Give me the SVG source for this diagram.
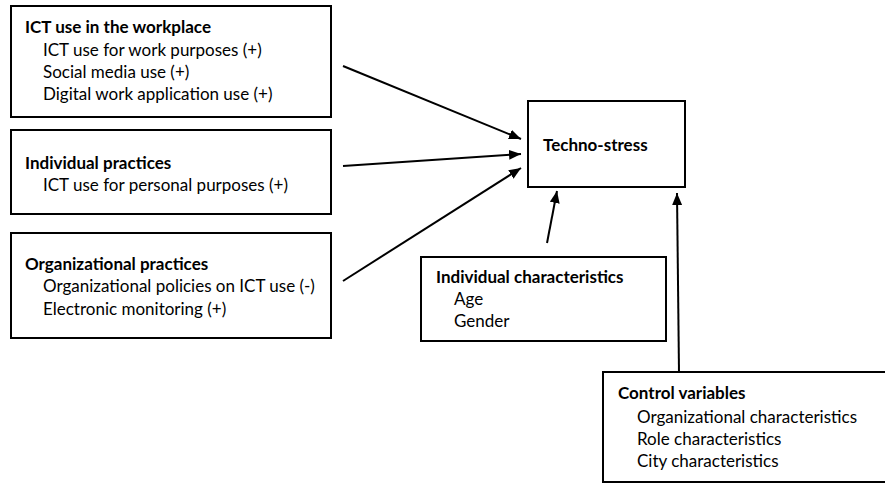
<svg xmlns="http://www.w3.org/2000/svg" width="885" height="483" viewBox="0 0 885 483">
<defs>
<style>
.box{fill:#fff;stroke:#000;stroke-width:2}
text{font-family:Lato,"Liberation Sans",sans-serif;font-size:17px;fill:#000}
.t{font-weight:bold}
.c{stroke:#000;stroke-width:2;fill:none;marker-end:url(#ah)}
</style>
<marker id="ah" viewBox="0 0 12 10" refX="12" refY="5" markerWidth="12" markerHeight="10" markerUnits="userSpaceOnUse" orient="auto">
<path d="M0,0 L12,5 L0,10 z" fill="#000"/>
</marker>
</defs>
<rect width="885" height="483" fill="#fff"/>
<g id="n-ict">
<rect class="box" x="11" y="6" width="320" height="111"/>
<text class="t" x="25" y="33" textLength="186" lengthAdjust="spacingAndGlyphs">ICT use in the workplace</text>
<text x="43" y="56">ICT use for work purposes (+)</text>
<text x="43" y="78">Social media use (+)</text>
<text x="43" y="100">Digital work application use (+)</text>
</g>
<g id="n-indpr">
<rect class="box" x="11" y="130" width="320" height="84"/>
<text class="t" x="25" y="169">Individual practices</text>
<text x="43" y="191">ICT use for personal purposes (+)</text>
</g>
<g id="n-orgpr">
<rect class="box" x="11" y="233" width="320" height="105"/>
<text class="t" x="25" y="270">Organizational practices</text>
<text x="43" y="292">Organizational policies on ICT use (-)</text>
<text x="43" y="315">Electronic monitoring (+)</text>
</g>
<g id="n-ts">
<rect class="box" x="528" y="101" width="157" height="86"/>
<text class="t" x="543" y="151">Techno-stress</text>
</g>
<g id="n-indch">
<rect class="box" x="421" y="257" width="245" height="84"/>
<text class="t" x="436" y="283">Individual characteristics</text>
<text x="454" y="305">Age</text>
<text x="454" y="327">Gender</text>
</g>
<g id="n-ctrl">
<rect class="box" x="603" y="372" width="290" height="110"/>
<text class="t" x="618" y="399">Control variables</text>
<text x="637" y="423">Organizational characteristics</text>
<text x="637" y="445">Role characteristics</text>
<text x="637" y="467">City characteristics</text>
</g>
<g id="connectors">
<line class="c" x1="343" y1="66" x2="521" y2="139"/>
<line class="c" x1="343" y1="166" x2="521" y2="154"/>
<line class="c" x1="343" y1="281" x2="521" y2="168"/>
<line class="c" x1="547" y1="243" x2="557" y2="191"/>
<line class="c" x1="679" y1="372" x2="677" y2="193"/>
</g>
</svg>
